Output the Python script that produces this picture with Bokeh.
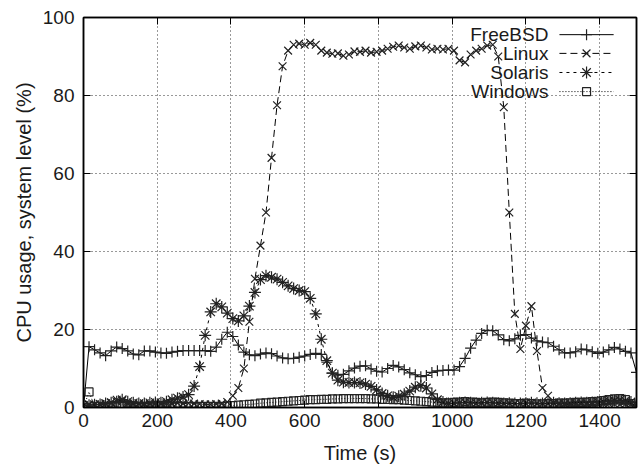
import numpy as np
from bokeh.plotting import figure
from bokeh.models import Range1d, FixedTicker, LinearAxis, ColumnDataSource
from bokeh.core.properties import value
from bokeh.embed import file_html
from bokeh.resources import INLINE

# time axis (s), one sample every 15 s
time_s = list(range(0, 1501, 15))

freebsd = [0.0, 15.6, 14.8, 14.0, 13.3, 14.5, 15.5, 15.1, 14.5, 13.7,
           13.5, 14.5, 14.5, 14.2, 14.0, 13.9, 14.2, 14.4, 14.6, 14.6,
           14.6, 14.6, 14.6, 14.4, 15.5, 17.5, 19.3, 18.2, 16.0, 14.2,
           13.5, 13.3, 13.7, 14.0, 13.8, 13.2, 12.7, 12.5, 12.6, 12.9,
           13.2, 13.6, 13.9, 13.6, 11.6, 8.8, 8.3, 8.5, 9.4, 10.1,
           10.6, 10.7, 9.9, 9.3, 9.1, 10.0, 10.8, 10.4, 9.7, 8.9,
           8.4, 7.9, 8.2, 9.0, 9.4, 9.5, 9.6, 9.6, 10.5, 12.6,
           15.2, 17.3, 19.0, 19.8, 19.7, 18.6, 17.4, 17.1, 17.6, 18.5,
           18.7, 17.8, 17.1, 16.8, 16.6, 15.7, 14.8, 14.0, 14.0, 14.3,
           15.0, 14.8, 14.3, 13.9, 14.2, 14.8, 15.4, 15.0, 14.4, 14.0,
           9.0]

linux = [0.5, 0.8, 0.7, 0.9, 1.0, 1.3, 2.0, 1.8, 1.0, 0.9,
         1.0, 0.8, 0.9, 1.0, 0.9, 1.1, 1.0, 1.2, 1.0, 1.1,
         1.0, 0.9, 0.8, 0.8, 0.9, 1.0, 1.4, 3.0, 5.0, 10.0,
         22.0, 33.0, 41.5, 50.0, 64.0, 77.5, 87.5, 91.5, 93.0, 93.3,
         93.0, 93.5, 93.0, 91.5, 91.0, 90.7, 90.8, 90.2, 90.5, 91.3,
         91.2, 91.5, 91.0, 91.2, 91.5, 92.0, 92.5, 92.8, 92.3, 92.0,
         92.6, 92.8, 92.3, 91.8, 92.0, 91.8, 92.0, 91.5, 89.0, 88.5,
         90.5, 91.5, 92.0, 92.8, 93.0, 90.0, 77.0, 50.0, 24.0, 15.0,
         21.0, 26.0, 14.5, 5.0, 3.0, 1.2, 0.8, 0.8, 0.7, 0.8,
         0.9, 0.8, 0.7, 0.8, 0.9, 1.0, 0.9, 0.8, 0.9, 0.8,
         0.6]

solaris = [0.5, 0.6, 0.7, 0.8, 1.0, 1.2, 1.5, 2.0, 1.5, 1.2,
           1.0, 1.0, 1.2, 1.3, 1.2, 1.5, 2.0, 2.4, 2.7, 3.3,
           5.5, 10.5, 18.5, 24.5, 26.6, 25.8, 24.2, 22.8, 22.2, 23.5,
           26.0, 29.5, 32.8, 33.8, 33.4, 32.9, 32.1, 31.2, 30.5, 30.0,
           29.7, 28.0, 24.0, 17.5, 12.0, 8.8, 7.0, 6.5, 6.4, 6.4,
           6.3, 6.0, 5.4, 4.5, 3.6, 3.0, 2.6, 2.9, 3.4, 4.2,
           5.2, 5.6, 5.0, 3.5, 2.0, 1.4, 1.0, 1.1, 1.2, 1.3,
           1.2, 1.1, 1.2, 1.3, 1.2, 1.1, 1.0, 1.1, 1.0, 1.0,
           1.1, 1.2, 1.1, 1.0, 1.1, 1.2, 1.1, 1.0, 1.1, 1.2,
           1.3, 1.2, 1.3, 1.4, 1.5, 1.6, 1.8, 1.9, 1.7, 1.4,
           0.5]

windows = [0.0, 4.0, 0.3, 0.3, 0.3, 0.3, 0.3, 0.3, 0.3, 0.3,
           0.3, 0.3, 0.3, 0.3, 0.3, 0.3, 0.3, 0.3, 0.3, 0.3,
           0.3, 0.3, 0.3, 0.3, 0.3, 0.3, 0.4, 0.5, 0.6, 0.7,
           0.8, 0.9, 1.1, 1.2, 1.3, 1.4, 1.5, 1.6, 1.7, 1.8,
           1.9, 2.0, 2.0, 2.1, 2.1, 2.2, 2.2, 2.3, 2.3, 2.3,
           2.3, 2.3, 2.2, 2.2, 2.1, 2.1, 2.0, 2.0, 1.9, 1.8,
           1.7, 1.6, 1.5, 1.4, 1.3, 1.2, 1.2, 1.3, 1.4, 1.5,
           1.4, 1.3, 1.2, 1.3, 1.4, 1.3, 1.2, 1.1, 1.0, 1.0,
           1.1, 1.0, 0.9, 0.9, 1.0, 1.0, 1.1, 1.1, 1.2, 1.3,
           1.3, 1.4, 1.5, 1.6, 1.8, 2.0, 2.2, 2.3, 2.0, 1.0,
           0.3]

x_ticks = [0, 200, 400, 600, 800, 1000, 1200, 1400]
y_ticks = [0, 20, 40, 60, 80, 100]

series_names = ["FreeBSD", "Linux", "Solaris", "Windows"]
series_vals = [freebsd, linux, solaris, windows]
for s in series_vals:
    assert len(s) == len(time_s), len(s)

FONT = "Liberation Sans"
TXT = "#1a1a1a"
styles = {
    "FreeBSD": dict(dash="solid", marker="cross", size=11),
    "Linux": dict(dash="7 4", marker="x", size=11),
    "Solaris": dict(dash="3 4", marker="asterisk", size=12),
    "Windows": dict(dash="1 2", marker="square", size=8),
}

p = figure(width=644, height=472, output_backend="svg", toolbar_location=None,
           x_range=Range1d(0, 1500), y_range=Range1d(0, 100),
           min_border_left=83, min_border_right=8, min_border_top=17,
           min_border_bottom=65)
p.background_fill_color = "white"
p.border_fill_color = "white"
p.outline_line_color = "black"
p.outline_line_width = 1.5
p.outline_line_alpha = 1.0

for ax in (p.xaxis[0], p.yaxis[0]):
    ax.major_tick_in = 7
    ax.major_tick_out = 0
    ax.minor_tick_in = 0
    ax.minor_tick_out = 0
    ax.axis_line_width = 1.5
    ax.axis_line_color = "black"
    ax.major_tick_line_color = "black"
    ax.major_label_text_font = FONT
    ax.major_label_text_font_size = "19px"
    ax.major_label_text_color = TXT
    ax.axis_label_text_font = FONT
    ax.axis_label_text_font_size = "20px"
    ax.axis_label_text_font_style = "normal"
    ax.axis_label_text_color = TXT

p.xaxis[0].ticker = FixedTicker(ticks=x_ticks)
p.yaxis[0].ticker = FixedTicker(ticks=y_ticks)
p.xaxis[0].axis_label = "Time (s)"
p.yaxis[0].axis_label = "CPU usage, system level (%)"
p.xaxis[0].major_label_standoff = 6
p.xaxis[0].axis_label_standoff = 12
p.yaxis[0].major_label_standoff = 9
p.yaxis[0].axis_label_standoff = 5

for loc, ticks in (("above", x_ticks), ("right", y_ticks)):
    a = LinearAxis(ticker=FixedTicker(ticks=ticks))
    a.major_tick_in = 7
    a.major_tick_out = 0
    a.minor_tick_in = 0
    a.minor_tick_out = 0
    a.major_label_overrides = {t: "" for t in ticks}
    a.major_label_text_font_size = "1px"
    a.major_label_standoff = 0
    a.axis_line_width = 1.5
    a.major_tick_line_color = "black"
    p.add_layout(a, loc)

p.xgrid.ticker = FixedTicker(ticks=x_ticks)
p.ygrid.ticker = FixedTicker(ticks=y_ticks)
for g in (p.xgrid[0], p.ygrid[0]):
    g.grid_line_color = "black"
    g.grid_line_dash = "1 3"
    g.grid_line_width = 1
    g.grid_line_alpha = 0.8

for name, vals in zip(series_names, series_vals):
    st = styles[name]
    src = ColumnDataSource(dict(t=time_s, v=vals))
    p.line("t", "v", source=src, line_color="black", line_width=1,
           line_dash=st["dash"])
    p.scatter("t", "v", source=src, marker=st["marker"], size=st["size"],
              line_color="#222222", fill_color=None, line_width=1.2)

# gnuplot-style key: text on the left, sample on the right (top-right corner)
key_text_x = 1261
key_line_x0, key_line_x1 = 1291, 1438
key_rows = [95.6, 90.8, 85.9, 81.0]
p.text(x=[key_text_x] * 4, y=key_rows, text=series_names,
       text_align="right", text_baseline="middle",
       text_font=value(FONT), text_font_size="19px", text_color=TXT)
for name, ky in zip(series_names, key_rows):
    st = styles[name]
    p.line([key_line_x0, key_line_x1], [ky, ky], line_color="black",
           line_width=1, line_dash=st["dash"])
    p.scatter([(key_line_x0 + key_line_x1) / 2], [ky], marker=st["marker"],
              size=st["size"], line_color="#222222", fill_color=None,
              line_width=1.2)

open("out.html", "w").write(file_html(p, INLINE))
